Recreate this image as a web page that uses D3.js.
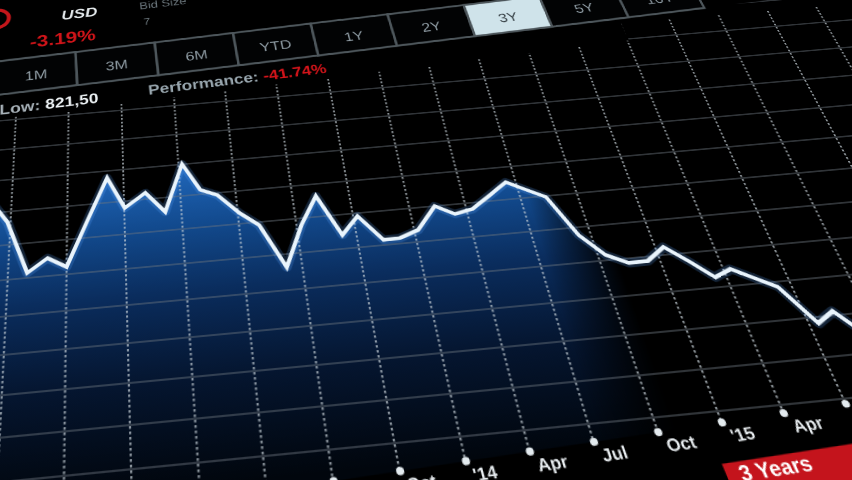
<!DOCTYPE html><html><head><meta charset="utf-8">
<script src="https://cdn.jsdelivr.net/npm/d3@7"></script>
<style>
body{margin:0;background:#000;width:852px;height:480px;overflow:hidden;position:relative;font-family:"Liberation Sans",Arial,sans-serif}
#plane{position:absolute;left:0;top:0;transform-origin:0 0}
</style></head><body>
<div id="plane"></div>
<script>
// ---------- data ----------
const dates = ["2012-03-01","2012-03-27","2012-05-01","2012-06-01","2012-07-01","2012-08-01","2012-09-04","2012-10-02","2012-11-05","2012-12-06",
"2013-01-07","2013-02-03","2013-03-02","2013-04-04","2013-05-03","2013-06-07","2013-07-09","2013-08-08","2013-09-09","2013-10-08","2013-11-11","2013-12-07",
"2014-01-07","2014-02-11","2014-03-12","2014-04-11","2014-05-12","2014-06-15","2014-07-13","2014-08-11","2014-09-12","2014-10-13","2014-11-13","2014-12-13",
"2015-01-14","2015-02-14","2015-03-15","2015-04-12","2015-05-12","2015-06-10","2015-07-15","2015-08-13","2015-09-12"];
const prices = [1430,1368,1214,1251,1221,1345,1478,1379,1420,1356,
1501,1414,1393,1332,1291,1163,1280,1363,1240,1291,1215,1216,
1234,1300,1271,1281,1315,1353,1325,1297,1177,1115,1087,1088,
1122,1075,1027,1045,1015,986,884,911,849];
const gridPrices = [700,800,900,1000,1100,1200,1300,1400,1500,1600,1700,1800,1900];
const tabLabels = ["1M","3M","6M","YTD","1Y","2Y","3Y","5Y","10Y"];
const selectedTab = "3Y";
const rangeLabel = "3 Years";
const lowLabel = "Low:", lowValue = "821,50";
const perfLabel = "Performance:", perfValue = "-41.74%";
const changeValue = "-3.19%", currency = "USD", bidLabel = "Bid Size", bidValue = "7";

// ---------- flat layout (chart drawn flat, then seen in perspective) ----------
const FX=q=>60*(q+9), FY=k=>40*(k+7);
const W=FX(11), H=FY(12);
function solve(A,b){const n=b.length;const M=A.map((r,i)=>r.concat([b[i]]));
for(let c=0;c<n;c++){let p=c;for(let r=c+1;r<n;r++)if(Math.abs(M[r][c])>Math.abs(M[p][c]))p=r;[M[c],M[p]]=[M[p],M[c]];
for(let r=0;r<n;r++){if(r===c)continue;const f=M[r][c]/M[c][c];for(let k=c;k<=n;k++)M[r][k]-=f*M[c][k];}}
return M.map((r,i)=>r[n]/r[i]);}
function homog(src,dst){const A=[],b=[];for(let i=0;i<4;i++){const [x,y]=src[i],[u,v]=dst[i];
A.push([x,y,1,0,0,0,-u*x,-u*y]);b.push(u);A.push([0,0,0,x,y,1,-v*x,-v*y]);b.push(v);}return solve(A,b);}
const [a,b,c,d,e,f,g,hh]=homog([[FX(-6),FY(0)],[FX(5),FY(0)],[FX(-6),FY(6)],[FX(5),FY(6)]],
                               [[68.5,144],[650,93],[66,349],[731,286]]);
const plane=d3.select('#plane').style('transform',`matrix3d(${a},${d},0,${g},${b},${e},0,${hh},0,0,1,0,${c},${f},0,1)`);
const svg=plane.append('svg').attr('width',W).attr('height',H);
const defs=svg.append('defs');

const parse=d3.timeParse("%Y-%m-%d");
const data=dates.map((s,i)=>({date:parse(s),price:prices[i]}));
const x=d3.scaleTime().domain([new Date(2012,0,1),new Date(2016,0,1)]).range([FX(-8),FX(8)]);
const y=d3.scaleLinear().domain([660,2300]).range([FY(9.4),FY(-7)]);
const axisTilt=0.048, axisBase=FY(9.55);
const axisY=X=>axisBase-axisTilt*(X-FX(0));
const quarters=d3.timeMonth.every(3).range(new Date(2011,9,1),new Date(2016,7,1));

// gradients
const fg=defs.append('linearGradient').attr('id','fillG').attr('gradientUnits','userSpaceOnUse')
  .attr('x1',0).attr('x2',0).attr('y1',FY(1)).attr('y2',FY(9.5));
[[0,'#2168bc'],[0.22,'#124a8e'],[0.45,'#0a2c5c'],[0.7,'#051631'],[1,'#01060d']].forEach(s=>fg.append('stop').attr('offset',s[0]).attr('stop-color',s[1]));
const mg=defs.append('linearGradient').attr('id','fadeG').attr('gradientUnits','userSpaceOnUse')
  .attr('x1',FX(2.1)).attr('x2',FX(3.3)).attr('y1',0).attr('y2',0);
mg.append('stop').attr('offset',0).attr('stop-color','#fff');
mg.append('stop').attr('offset',1).attr('stop-color','#000');
defs.append('mask').attr('id','fadeM').attr('maskUnits','userSpaceOnUse').attr('x',0).attr('y',0).attr('width',W).attr('height',H)
  .append('rect').attr('width',W).attr('height',H).attr('fill','url(#fadeG)');

// area fill
svg.append('path').datum(data).attr('mask','url(#fadeM)').attr('fill','url(#fillG)')
  .attr('d',d3.area().x(p=>x(p.date)).y0(p=>axisY(x(p.date))).y1(p=>y(p.price)));

// grid rows
svg.append('g').selectAll('line').data(gridPrices).join('line')
  .attr('x1',0).attr('x2',W).attr('y1',p=>y(p)).attr('y2',p=>y(p))
  .attr('stroke','#6a757d').attr('stroke-opacity',0.6).attr('stroke-width',1.7);
// vertical dotted grid
svg.append('g').selectAll('line').data(quarters).join('line')
  .attr('x1',q=>x(q)).attr('x2',q=>x(q)).attr('y1',FY(-2.6)).attr('y2',q=>axisY(x(q)))
  .attr('stroke','#c2ccd3').attr('stroke-opacity',0.72).attr('stroke-width',2).attr('stroke-dasharray','2.5,2.5');

// price line
const line=d3.line().x(p=>x(p.date)).y(p=>y(p.price));
svg.append('path').datum(data).attr('fill','none').attr('stroke','#5aa6ff').attr('stroke-opacity',0.22)
  .attr('stroke-width',10).attr('stroke-linejoin','round').attr('d',line);
svg.append('path').datum(data).attr('fill','none').attr('stroke','#e9f4fc')
  .attr('stroke-width',4.3).attr('stroke-linejoin','miter').attr('stroke-miterlimit',3).attr('d',line);

// header (tabs + info row)
const hd=svg.append('g').attr('transform',`rotate(-2.7 ${FX(-7.5)} ${FY(-2.2)})`);
hd.append('rect').attr('x',FX(-11)).attr('y',FY(-10)).attr('width',FX(5.0)-FX(-11)).attr('height',FY(-1.05)-FY(-10)).attr('fill','#000');
hd.append('rect').attr('x',FX(-11)).attr('y',FY(-10)).attr('width',FX(12)-FX(-11)).attr('height',FY(-1.92)-FY(-10)).attr('fill','#000');
const tw=1.58, t0=-7.43, tTop=-3.17, tBot=-1.92;
hd.selectAll('rect.tab').data(tabLabels).join('rect').attr('class','tab')
  .attr('x',(t,i)=>FX(t0+i*tw)).attr('y',FY(tTop)).attr('width',FX(tw)-FX(0)).attr('height',FY(tBot)-FY(tTop))
  .attr('fill',t=>t===selectedTab?'#cfe3ea':'#020304').attr('stroke','#4d565b').attr('stroke-width',3);
hd.selectAll('text.tab').data(tabLabels).join('text').attr('class','tab')
  .attr('x',(t,i)=>FX(t0+(i+0.5)*tw)).attr('y',FY(-2.32)).attr('text-anchor','middle')
  .attr('font-size',19).attr('fill',t=>t===selectedTab?'#3a4449':'#8f9ca4').text(t=>t);
const low=hd.append('text').attr('x',FX(-7.35)).attr('y',FY(-1.2)).attr('font-size',20).attr('font-weight','bold');
low.append('tspan').attr('fill','#a9b3ba').text(lowLabel+' ');
low.append('tspan').attr('fill','#eef3f6').text(lowValue);
const perf=hd.append('text').attr('x',FX(-4.5)).attr('y',FY(-1.25)).attr('font-size',20).attr('font-weight','bold');
perf.append('tspan').attr('fill','#98a6ae').text(perfLabel+' ');
perf.append('tspan').attr('fill','#d3141a').text(perfValue);
hd.append('text').attr('x',FX(-6.75)).attr('y',FY(-3.55)).attr('font-size',25).attr('font-weight','bold').attr('fill','#cf1419').text(changeValue);
hd.append('text').attr('x',FX(-6.1)).attr('y',FY(-4.5)).attr('font-size',21).attr('font-weight','bold').attr('font-style','italic').attr('fill','#e4e9ec').text(currency);
hd.append('text').attr('x',FX(-4.5)).attr('y',FY(-4.55)).attr('font-size',16).attr('fill','#6b767c').text(bidLabel);
hd.append('text').attr('x',FX(-4.45)).attr('y',FY(-3.9)).attr('font-size',15).attr('fill','#6b767c').text(bidValue);
hd.append('circle').attr('cx',FX(-7.4)).attr('cy',FY(-4.85)).attr('r',14).attr('fill','none').attr('stroke','#c3161b').attr('stroke-width',5);

// x axis (tilted bottom edge)
const ax=svg.append('g').attr('transform',`translate(0,${axisBase}) rotate(${-Math.atan(axisTilt)*180/Math.PI} ${FX(0)} 0)`);
ax.append('rect').attr('x',FX(3.75)).attr('y',35).attr('width',FX(8)-FX(3.75)).attr('height',60).attr('fill','#c4141c');
ax.append('text').attr('x',FX(3.95)).attr('y',52).attr('text-anchor','start').attr('font-size',19).attr('font-weight','bold')
  .attr('font-family','"Liberation Sans",Arial,sans-serif').attr('fill','#fff').text(rangeLabel);
const fmt=dt=>dt.getMonth()===0?"'"+d3.timeFormat("%y")(dt):d3.timeFormat("%b")(dt);
ax.call(d3.axisBottom(x).tickValues(quarters).tickSize(0).tickPadding(7).tickFormat(fmt));
ax.select('.domain').remove();
ax.selectAll('.tick text').attr('text-anchor','start').attr('x',3).attr('font-size',16).attr('font-weight','bold')
  .attr('fill','#e9eef1').attr('font-family','"Liberation Sans",Arial,sans-serif');
ax.selectAll('.tick').append('circle').attr('r',3.6).attr('fill','#e3eaee');
</script></body></html>
